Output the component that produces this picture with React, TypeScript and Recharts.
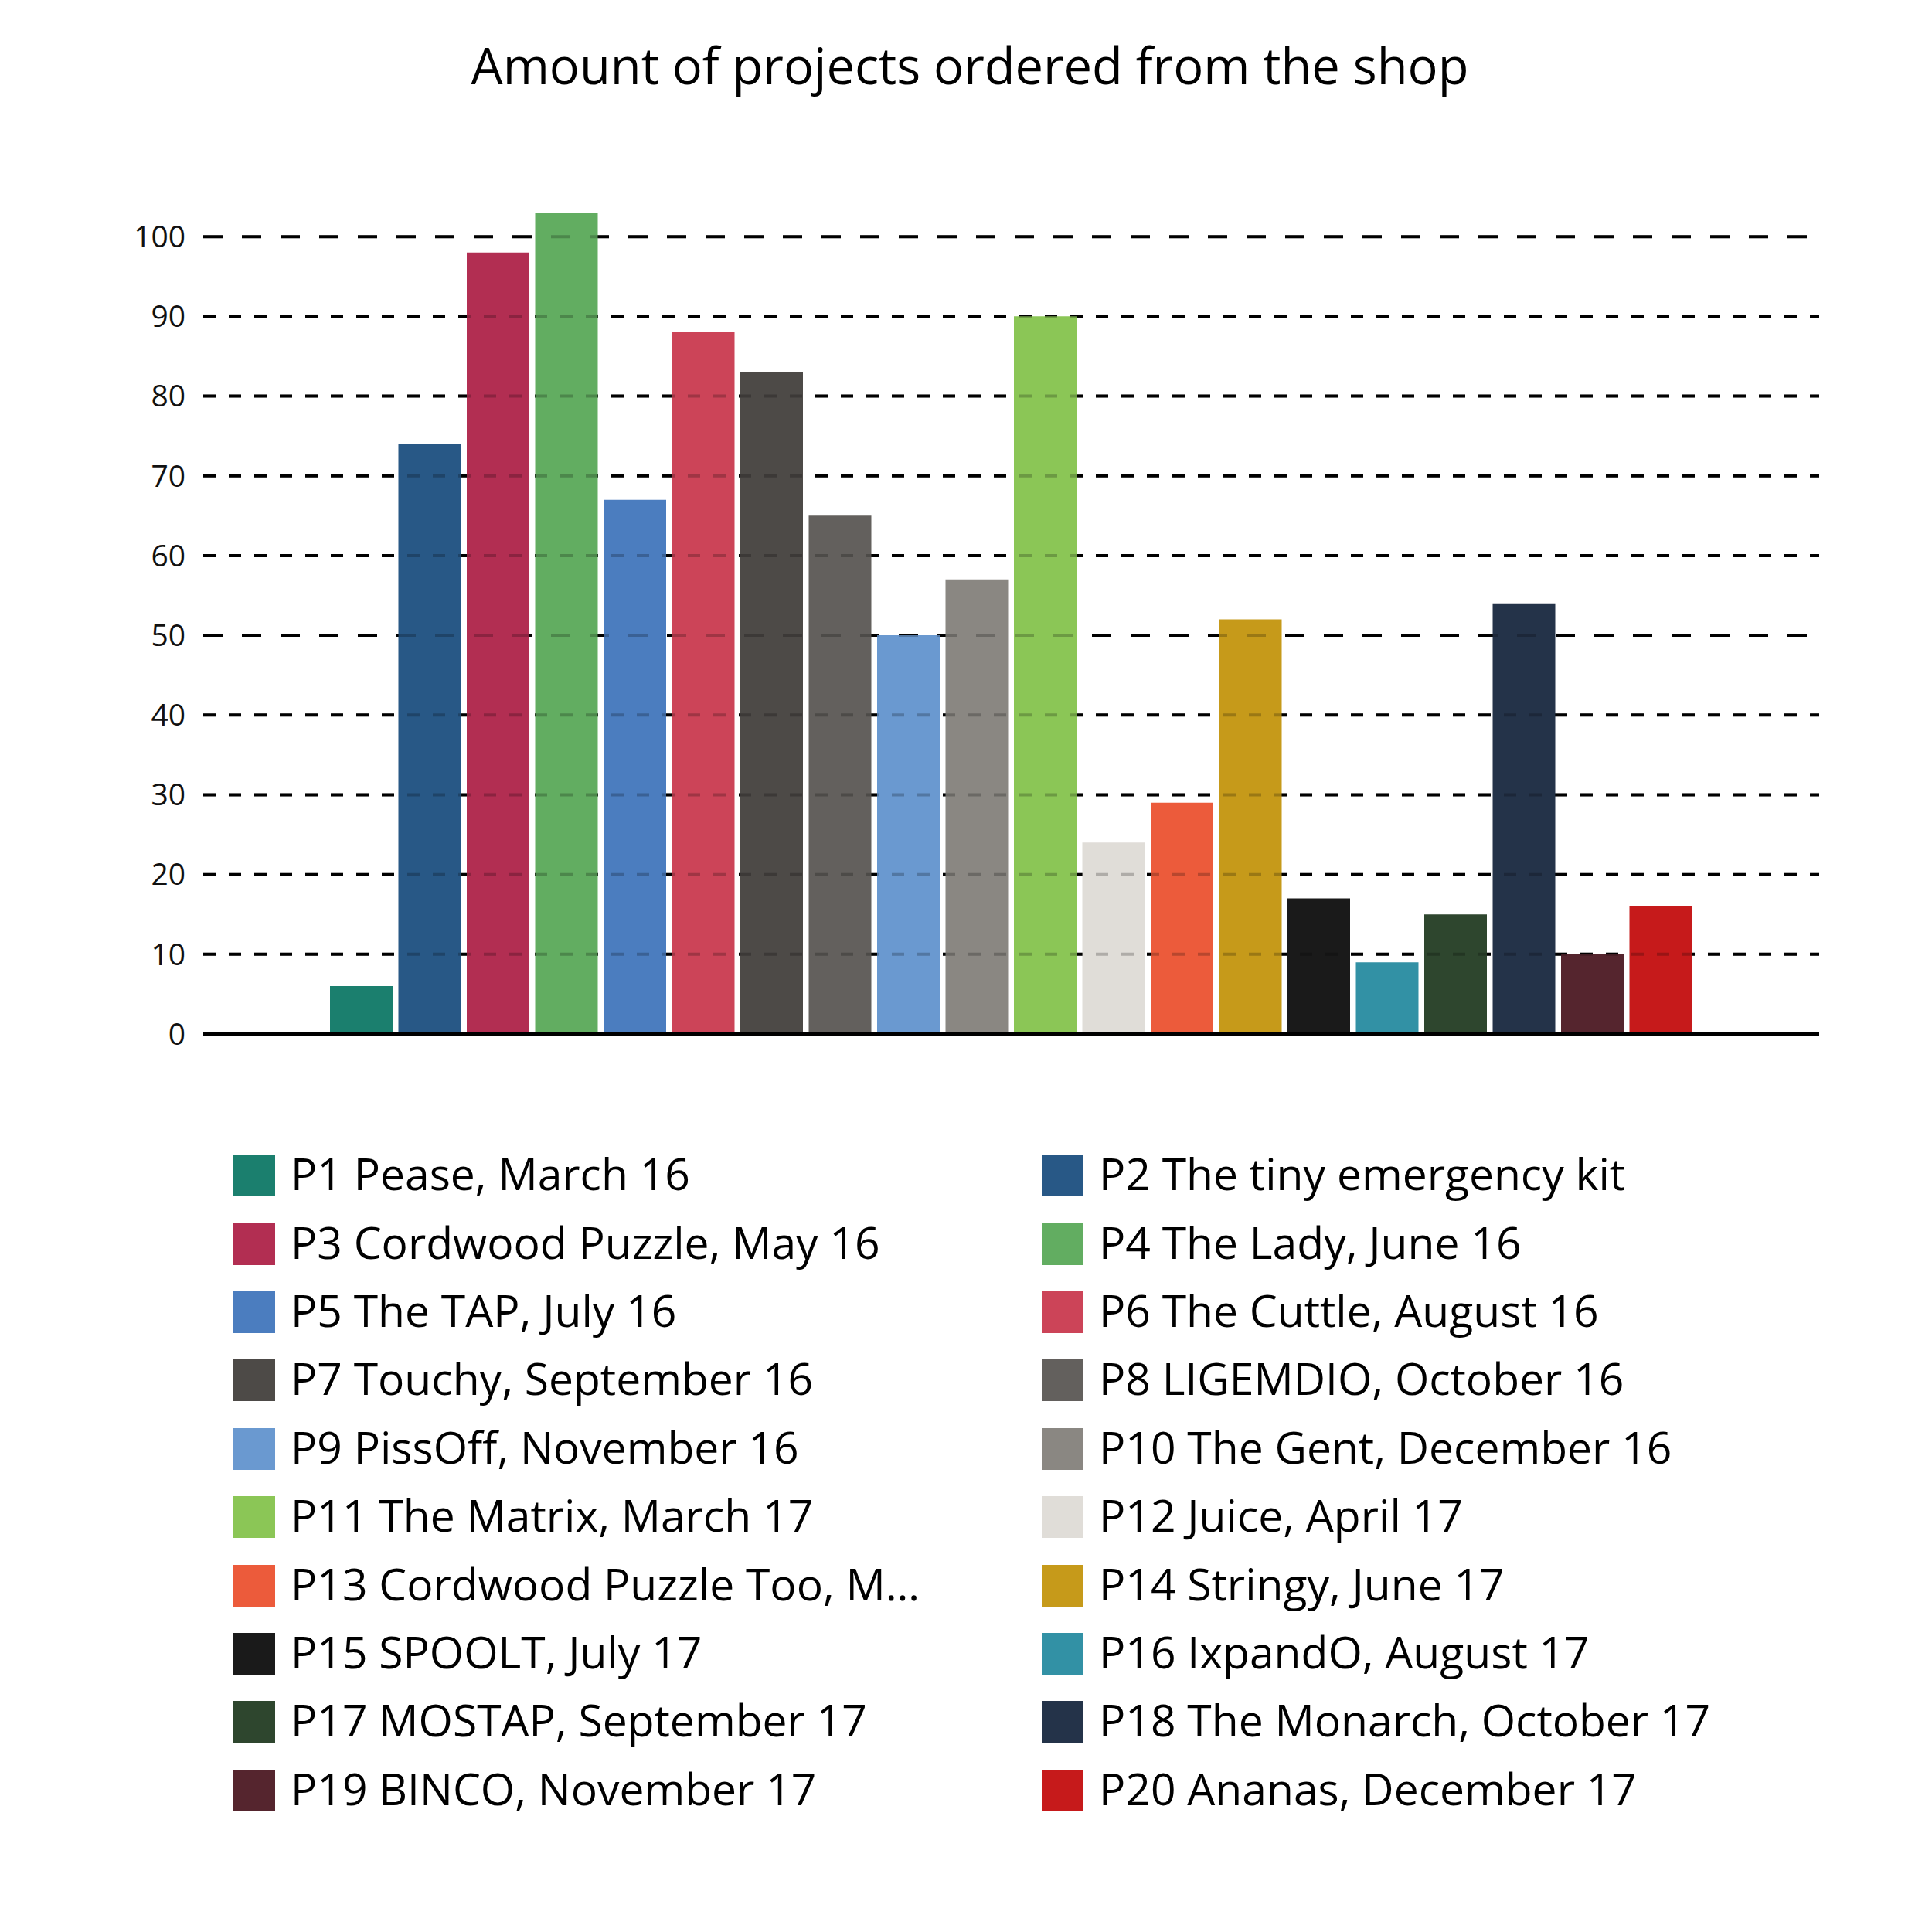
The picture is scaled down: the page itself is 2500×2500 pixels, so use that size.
import React from 'react';
import { BarChart, Bar, XAxis, YAxis, CartesianGrid, Legend, ReferenceLine } from 'recharts';

const chartTitle = 'Amount of projects ordered from the shop';

const projectNames = [
  'P1 Pease, March 16',
  'P2 The tiny emergency kit',
  'P3 Cordwood Puzzle, May 16',
  'P4 The Lady, June 16',
  'P5 The TAP, July 16',
  'P6 The Cuttle, August 16',
  'P7 Touchy, September 16',
  'P8 LIGEMDIO, October 16',
  'P9 PissOff, November 16',
  'P10 The Gent, December 16',
  'P11 The Matrix, March 17',
  'P12 Juice, April 17',
  'P13 Cordwood Puzzle Too, May 17',
  'P14 Stringy, June 17',
  'P15 SPOOLT, July 17',
  'P16 IxpandO, August 17',
  'P17 MOSTAP, September 17',
  'P18 The Monarch, October 17',
  'P19 BINCO, November 17',
  'P20 Ananas, December 17',
];

const projectValues = [6, 74, 98, 103, 67, 88, 83, 65, 50, 57, 90, 24, 29, 52, 17, 9, 15, 54, 10, 16];

const projectColors = [
  '#1b7f6e', '#285886', '#b22e52', '#62ad61', '#4b7dbf',
  '#cc4458', '#4d4a47', '#63605d', '#6a99d0', '#8a8782',
  '#8bc656', '#e0ddd8', '#ec5b3b', '#c69a1a', '#1a1a1a',
  '#3291a5', '#2e462e', '#243349', '#55252e', '#c61a1b',
];

const yTicks = [0, 10, 20, 30, 40, 50, 60, 70, 80, 90, 100];
const majorTicks = [50, 100];
const yMax = 110;

const projectKeys = projectNames.map((_, i) => `p${i + 1}`);

const chartData = [
  projectKeys.reduce(
    (row: Record<string, any>, key, i) => {
      row[key] = projectValues[i];
      return row;
    },
    { category: 'Projects' } as Record<string, any>
  ),
];

const FONT = '"Open Sans", "Noto Sans", sans-serif';
const MINOR_DASH = '16 17';
const MAJOR_DASH = '25 25';

const GridLine = (props: any) => {
  const { x1, x2, y1, y2, y, height, index } = props;
  let value = yTicks[index];
  if (typeof y === 'number' && typeof height === 'number' && height > 0) {
    value = Math.round((yMax * (y + height - y1)) / height / 10) * 10;
  }
  if (!yTicks.includes(value)) {
    return <g key={`grid-${index}`} />;
  }
  const dash = majorTicks.includes(value) ? MAJOR_DASH : MINOR_DASH;
  return (
    <line
      key={`grid-${index}`}
      x1={x1}
      x2={x2}
      y1={y1}
      y2={y2}
      stroke="#000"
      strokeWidth={4}
      strokeDasharray={dash}
      fill="none"
    />
  );
};

const renderLegend = (props: any) => {
  const payload = [...(props.payload || [])].sort(
    (a: any, b: any) => projectKeys.indexOf(a.dataKey) - projectKeys.indexOf(b.dataKey)
  );
  return (
    <div
      style={{
        display: 'grid',
        gridTemplateColumns: '1046px 1046px',
        paddingLeft: 302,
        boxSizing: 'border-box',
      }}
    >
      {payload.map((entry: any) => {
        const idx = projectKeys.indexOf(entry.dataKey);
        return (
          <div
            key={entry.dataKey}
            style={{ display: 'flex', alignItems: 'center', height: 88.4 }}
          >
            <span
              style={{
                display: 'inline-block',
                flex: '0 0 54px',
                width: 54,
                height: 54,
                background: projectColors[idx] || entry.color,
              }}
            />
            <span
              style={{
                marginLeft: 20,
                fontFamily: FONT,
                fontSize: 57,
                color: '#000',
                whiteSpace: 'nowrap',
                overflow: 'hidden',
                textOverflow: 'ellipsis',
                maxWidth: 835,
                lineHeight: '84px',
                position: 'relative',
                top: -3,
              }}
            >
              {entry.value}
            </span>
          </div>
        );
      })}
    </div>
  );
};

export default function App() {
  return (
    <div style={{ position: 'absolute', left: 0, top: 0, width: 2500, height: 2500, background: '#fff' }}>
      <svg
        width={2500}
        height={160}
        style={{ position: 'absolute', left: 0, top: 0 }}
      >
        <text
          x={1255}
          y={109}
          textAnchor="middle"
          fontFamily={FONT}
          fontSize={65}
          fill="#000"
        >
          {chartTitle}
        </text>
      </svg>
      <div style={{ position: 'absolute', left: 0, top: 0 }}>
        <BarChart
          width={2500}
          height={2500}
          data={chartData}
          margin={{ top: 203, right: 146, bottom: 1161, left: 0 }}
          barSize={81}
          barGap={7.5}
        >
          <CartesianGrid vertical={false} horizontal={GridLine as any} />
          <YAxis
            width={263}
            domain={[0, yMax]}
            ticks={yTicks}
            interval={0}
            tickLine={false}
            axisLine={false}
            tickSize={0}
            tickMargin={23}
            tick={{ fontFamily: FONT, fontSize: 39, fill: '#111' }}
          />
          <XAxis
            dataKey="category"
            height={1}
            tick={false}
            tickLine={false}
            axisLine={{ stroke: '#000', strokeWidth: 4 }}
          />
          {projectKeys.map((key, i) => (
            <Bar
              key={key}
              dataKey={key}
              name={projectNames[i]}
              fill={projectColors[i]}
              isAnimationActive={false}
            />
          ))}
          {yTicks
            .filter((t) => t > 0)
            .map((t) => (
              <ReferenceLine
                key={`overlay-${t}`}
                y={t}
                stroke="#000"
                strokeWidth={4}
                strokeOpacity={0.22}
                strokeDasharray={majorTicks.includes(t) ? MAJOR_DASH : MINOR_DASH}
              />
            ))}
          <Legend
            verticalAlign="middle"
            align="center"
            layout="horizontal"
            content={renderLegend}
            wrapperStyle={{ top: 1477, left: 0, width: 2500 }}
          />
        </BarChart>
      </div>
    </div>
  );
}
